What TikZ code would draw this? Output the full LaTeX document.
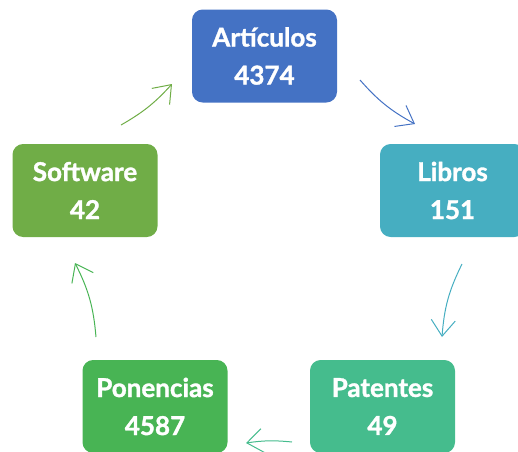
\documentclass[tikz,border=0pt]{standalone}
\usepackage{fontspec}
\setmainfont{Lato}[BoldFeatures={FakeBold=1.3}]
\usetikzlibrary{arrows.meta}

\definecolor{cArt}{RGB}{68,114,196}
\definecolor{cLib}{RGB}{70,174,193}
\definecolor{cPat}{RGB}{69,188,141}
\definecolor{cPon}{RGB}{72,180,84}
\definecolor{cSof}{RGB}{112,173,71}

\tikzset{every picture/.style={line width=0.75pt}}
\tikzset{
  box/.style={rounded corners=8pt, minimum width=108.75pt, minimum height=69.75pt,
    inner sep=0pt, text=white, align=center,
    font=\bfseries\fontsize{19.5}{28.5}\selectfont},
  cyc/.style={-{Straight Barb[length=12pt,width=18pt]}, line width=0.75pt}
}

\begin{document}
\begin{tikzpicture}[x=0.75pt,y=0.75pt,yscale=-1,xscale=1]
\useasboundingbox (0,0) rectangle (518,451);

%Rounded Rect: Articulos
\node [box, fill=cArt] (art) at (264.5,56) {Artículos\\4374};
%Rounded Rect: Libros
\node [box, fill=cLib] (lib) at (452.5,190.5) {Libros\\151};
%Rounded Rect: Patentes
\node [box, fill=cPat] (pat) at (382.5,406.5) {Patentes\\49};
%Rounded Rect: Ponencias
\node [box, fill=cPon] (pon) at (155,406.5) {Ponencias\\4587};
%Rounded Rect: Software
\node [box, fill=cSof] (sof) at (85,190.5) {Software\\42};

% arrow ends
\coordinate (artA) at (360,80);   \coordinate (libA) at (415,124);
\coordinate (libB) at (462,264);  \coordinate (patB) at (442,337);
\coordinate (patC) at (292,442);  \coordinate (ponC) at (246,443);
\coordinate (ponD) at (96,337);   \coordinate (sofD) at (75,263);
\coordinate (sofE) at (121,125);  \coordinate (artE) at (172,84);

%Curve Arrows
\draw [cyc, draw=cArt] (artA) to [bend left=10] (libA);
\draw [cyc, draw=cLib] (libB) to [bend left=11] (patB);
\draw [cyc, draw=cPat] (patC) to [bend left=7] (ponC);
\draw [cyc, draw=cPon] (ponD) to [bend left=11] (sofD);
\draw [cyc, draw=cSof] (sofE) to [bend left=9] (artE);

\end{tikzpicture}
\end{document}
